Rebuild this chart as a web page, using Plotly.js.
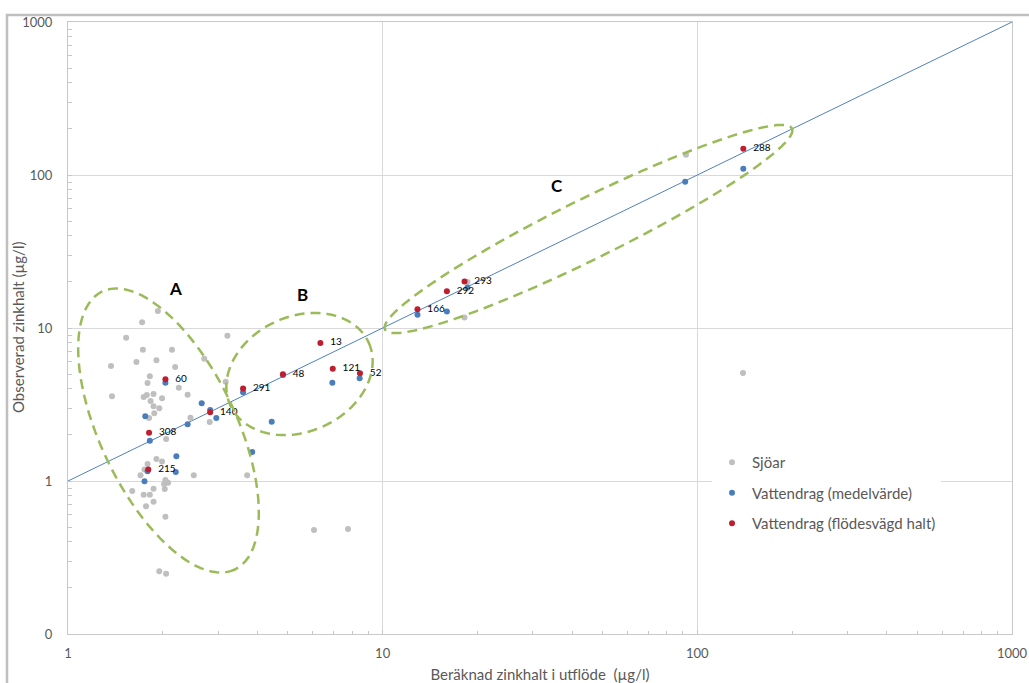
<!DOCTYPE html>
<html><head><meta charset="utf-8">
<script src="https://cdn.plot.ly/plotly-3.0.1.min.js"></script>
<style>html,body{margin:0;padding:0;background:#fff}#chart{width:1029px;height:683px}</style>
</head><body><div id="chart"></div>
<script>
// Sjöar (lakes)
const sjoarX = [1.93,1.72,1.53,3.21,1.73,2.14,1.37,1.65,1.91,2.19,2.71,1.82,1.79,2.25,3.17,1.38,1.74,1.78,1.87,1.99,2.40,1.83,1.87,1.95,1.88,1.81,2.45,2.82,2.05,1.91,1.99,1.79,1.75,1.70,2.51,3.71,2.04,2.08,2.02,1.60,1.87,2.03,1.74,1.82,1.87,1.77,2.04,1.95,2.05,6.05,7.76,18.2,18.6,92.0,139.7];
const sjoarY = [12.9,10.9,8.64,8.9,7.21,7.21,5.64,6.0,6.15,5.56,6.3,4.83,4.37,4.07,4.46,3.58,3.54,3.65,3.70,3.47,3.66,3.33,3.08,2.99,2.77,2.58,2.59,2.43,1.88,1.39,1.34,1.29,1.19,1.09,1.09,1.09,1.015,0.975,0.956,0.86,0.891,0.887,0.814,0.814,0.732,0.683,0.584,0.257,0.248,0.478,0.486,11.7,20.0,135.7,5.08];
// Vattendrag (medelvärde)
const medelX = [2.04,1.76,2.66,2.83,2.96,2.40,1.82,2.21,3.60,3.85,1.79,2.20,1.75,4.44,4.82,6.92,8.45,12.9,16.0,18.6,91.5,140];
const medelY = [4.39,2.65,3.22,2.91,2.58,2.35,1.83,1.45,3.80,1.55,1.16,1.145,0.995,2.44,4.93,4.39,4.69,12.2,12.8,18.4,90.4,110];
// Vattendrag (flödesvägd halt)
const flodeX = [2.04,2.83,1.81,1.80,3.60,4.82,6.34,6.94,8.47,12.9,16.0,18.2,140];
const flodeY = [4.62,2.81,2.07,1.19,4.02,4.98,7.98,5.42,5.06,13.25,17.4,20.1,148.5];
const flodeLabels = ['60','140','308','215','291','48','13','121','52','166','292','293','288'];
// 1:1 line
const lineX = [1,1000];
const lineY = [1,1000];
const seriesNames = ['Sjöar','Vattendrag (medelvärde)','Vattendrag (flödesvägd halt)'];
const groupLetters = ['A','B','C'];
const xTitle = 'Beräknad zinkhalt i utflöde  (µg/l)';
const yTitle = 'Observerad zinkhalt (µg/l)';

const W=1029,H=683,ML=68,MR=17,MT=22,MB=49;
const PW=W-ML-MR, PH=H-MT-MB;
const px2x = p => (p-ML)/PW;
const py2y = p => (H-MB-p)/PH;
function ellipsePath(cx,cy,a,b,phiDeg){
  const f=phiDeg*Math.PI/180; let s='';
  for(let i=0;i<=96;i++){
    const t=2*Math.PI*i/96;
    const X=cx+a*Math.cos(t)*Math.cos(f)-b*Math.sin(t)*Math.sin(f);
    const Y=cy+a*Math.cos(t)*Math.sin(f)+b*Math.sin(t)*Math.cos(f);
    s+=(i?'L':'M')+px2x(X).toFixed(5)+','+py2y(Y).toFixed(5);
  }
  return s+'Z';
}
const FONT='Lato, "Open Sans", sans-serif';
const GREY='#595959';
const traces = [
  {x:lineX,y:lineY,mode:'lines',line:{color:'#4F81BD',width:1},showlegend:false,hoverinfo:'skip'},
  {x:sjoarX,y:sjoarY,mode:'markers',name:seriesNames[0],legendgroup:'g1',marker:{color:'#BFBFBF',size:6}},
  {x:medelX,y:medelY,mode:'markers',name:seriesNames[1],legendgroup:'g2',marker:{color:'#4A7EBB',size:6}},
  {x:flodeX,y:flodeY,mode:'markers+text',name:seriesNames[2],legendgroup:'g3',marker:{color:'#BE1E2D',size:6},
   text:flodeLabels.map(s=>'\u00a0\u00a0'+s),textposition:'middle right',textfont:{size:10,color:'#000',family:FONT}}
];
const ell = {type:'path',xref:'paper',yref:'paper',line:{color:'#9BBB59',width:2.5,dash:'10px,6px'}};
const letter = (t,px,py)=>({text:'<b>'+t+'</b>',xref:'paper',yref:'paper',x:px2x(px),y:py2y(py),xanchor:'center',yanchor:'middle',showarrow:false,font:{size:17,color:'#000',family:FONT}});
const layout = {
  width:W,height:H,margin:{l:ML,r:MR,t:MT,b:MB},
  paper_bgcolor:'#fff',plot_bgcolor:'#fff',
  font:{family:FONT,color:GREY,size:13},
  xaxis:{type:'log',range:[0,3],dtick:1,exponentformat:'none',showgrid:true,gridcolor:'#D9D9D9',gridwidth:1,
    showline:true,linecolor:'#C8C8C8',linewidth:1,mirror:true,zeroline:false,
    ticks:'inside',ticklen:4,tickcolor:'#C8C8C8',ticklabelstandoff:7,
    minor:{dtick:'D1',ticks:'inside',ticklen:3,tickcolor:'#C8C8C8',showgrid:false},
    tickfont:{size:13,color:GREY},
    title:{text:xTitle,font:{size:15,color:GREY},standoff:9}},
  yaxis:{type:'log',range:[-1,3],dtick:1,exponentformat:'none',labelalias:{'0.1':'0'},showgrid:true,gridcolor:'#D9D9D9',gridwidth:1,
    showline:true,linecolor:'#C8C8C8',linewidth:1,mirror:true,zeroline:false,
    ticks:'inside',ticklen:4,tickcolor:'#C8C8C8',ticklabelstandoff:12,
    minor:{dtick:'D1',ticks:'inside',ticklen:4,tickcolor:'#C8C8C8',showgrid:false},
    tickfont:{size:13,color:GREY}},
  showlegend:true,
  legend:{x:px2x(712),y:py2y(446),xanchor:'left',yanchor:'top',bgcolor:'#fff',borderwidth:0,
    traceorder:'grouped',tracegroupgap:8,font:{size:15,color:GREY,family:FONT},itemwidth:30},
  shapes:[
    Object.assign({},ell,{path:ellipsePath(168.5,430.5,154,68,64.5)}),
    Object.assign({},ell,{path:ellipsePath(299.5,374,76,57.5,-24.4)}),
    Object.assign({},ell,{path:ellipsePath(588.5,229,227,30,-26.3)}),
    {type:'rect',xref:'paper',yref:'paper',x0:px2x(7),x1:px2x(1045),y0:py2y(700),y1:py2y(15),line:{color:'#BFBFBF',width:2.5},layer:'below'}
  ],
  annotations:[
    letter(groupLetters[0],175,288),
    letter(groupLetters[1],302,294),
    letter(groupLetters[2],557,185),
    {text:yTitle,xref:'paper',yref:'paper',x:px2x(18),y:py2y(328),xanchor:'center',yanchor:'middle',textangle:-90,showarrow:false,font:{size:15,color:GREY,family:FONT}}
  ]
};
Plotly.newPlot('chart',traces,layout,{displayModeBar:false,staticPlot:true});
</script></body></html>
